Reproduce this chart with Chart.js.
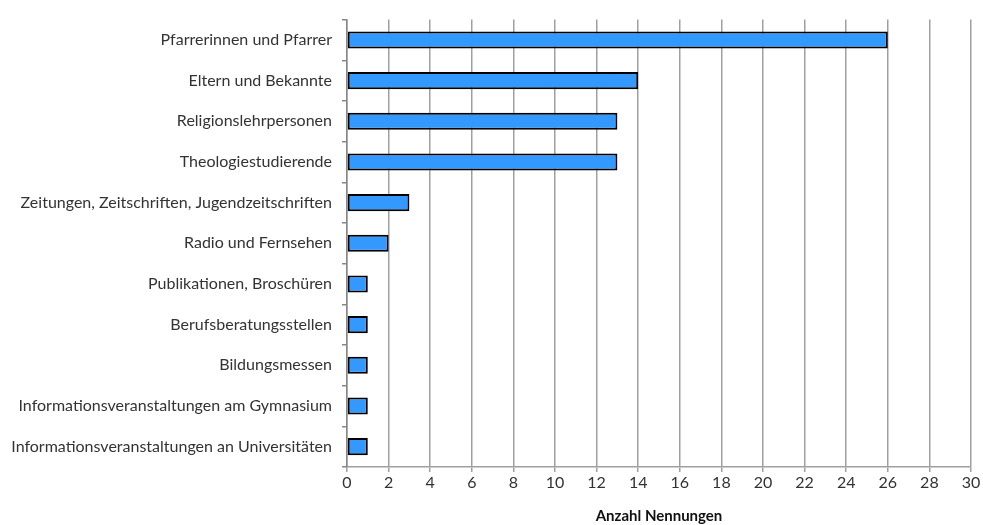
<!DOCTYPE html>
<html>
<head>
<meta charset="utf-8">
<script src="https://cdn.jsdelivr.net/npm/chart.js@4.4.0/dist/chart.umd.min.js"></script>
<style>
    html, body { margin: 0; padding: 0; background: #fff; }
    #wrap { width: 983px; height: 525px; }
</style>
</head>
<body>
<div id="wrap"><canvas id="chart"></canvas></div>
<script>
// Kategorien (von oben nach unten)
const categories = [
    'Pfarrerinnen und Pfarrer',
    'Eltern und Bekannte',
    'Religionslehrpersonen',
    'Theologiestudierende',
    'Zeitungen, Zeitschriften, Jugendzeitschriften',
    'Radio und Fernsehen',
    'Publikationen, Broschüren',
    'Berufsberatungsstellen',
    'Bildungsmessen',
    'Informationsveranstaltungen am Gymnasium',
    'Informationsveranstaltungen an Universitäten'
];

// Anzahl Nennungen
const counts = [26, 14, 13, 13, 3, 2, 1, 1, 1, 1, 1];

const xMin = 0;
const xMax = 30;
const xStep = 2;
const xTitle = 'Anzahl Nennungen';

// --------------------------------------------------------------------------

const ctx = document.getElementById('chart').getContext('2d');

new Chart(ctx, {
    type: 'bar',
    data: {
        labels: categories,
        datasets: [{
            data: counts,
            backgroundColor: '#3399ff',
            borderColor: '#000',
            borderWidth: 2,
            borderSkipped: false,
            barPercentage: 0.42,
            categoryPercentage: 1
        }]
    },
    options: {
        indexAxis: 'y',
        responsive: true,
        maintainAspectRatio: false,
        animation: false,
        layout: {
            padding: { top: 14, right: 12, bottom: 0, left: 0 }
        },
        plugins: {
            legend: { display: false },
            tooltip: { enabled: false }
        },
        scales: {
            x: {
                min: xMin,
                max: xMax,
                ticks: {
                    stepSize: xStep,
                    color: '#333',
                    font: { family: 'Lato', size: 16 },
                    padding: 1
                },
                grid: {
                    color: '#a0a0a0',
                    lineWidth: 1.5,
                    tickLength: 5,
                    tickColor: '#a0a0a0'
                },
                border: { color: '#a0a0a0', width: 1.5 },
                title: {
                    display: true,
                    text: xTitle,
                    color: '#111',
                    font: { family: 'Lato', size: 15, weight: 'bold' },
                    padding: { top: 6, bottom: 0 }
                },
                afterFit: scale => { scale.height = 58; }
            },
            y: {
                ticks: {
                    color: '#333',
                    font: { family: 'Lato', size: 16 },
                    padding: 10
                },
                grid: {
                    offset: true,
                    drawOnChartArea: false,
                    tickLength: 5,
                    tickColor: '#888',
                    lineWidth: 1.5
                },
                border: { color: '#888', width: 1.5 },
                afterFit: scale => { scale.width = 347; }
            }
        }
    }
});
</script>
</body>
</html>
